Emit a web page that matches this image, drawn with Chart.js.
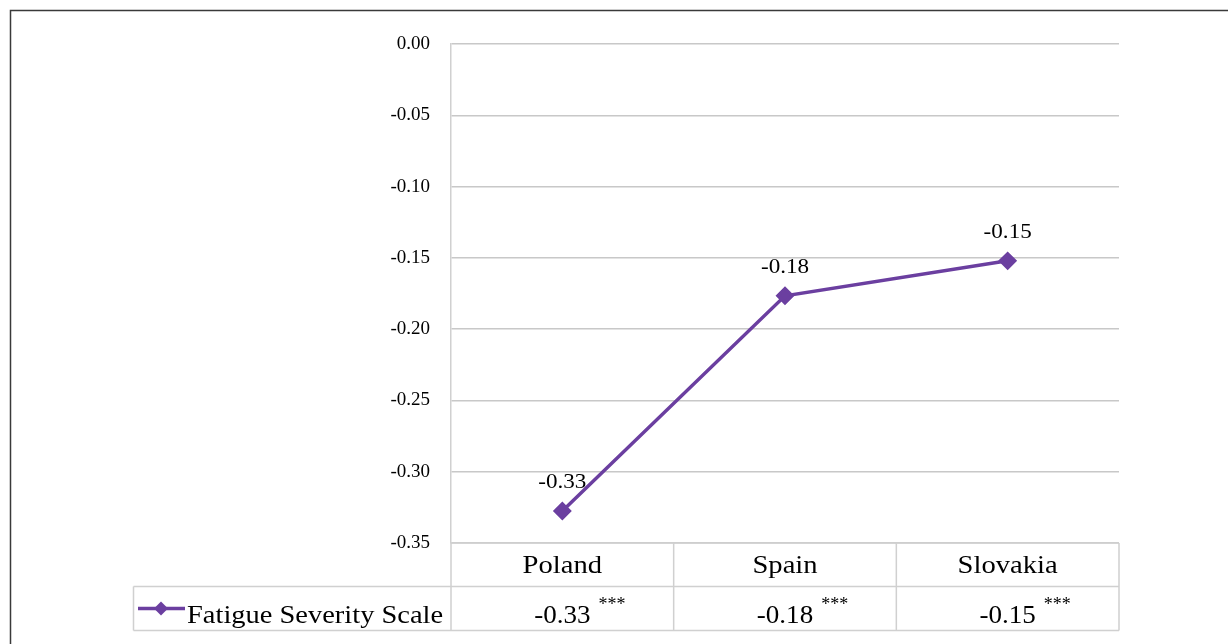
<!DOCTYPE html>
<html>
<head>
<meta charset="utf-8">
<script src="https://cdn.jsdelivr.net/npm/chart.js@4.4.1/dist/chart.umd.min.js"></script>
<style>
html,body{margin:0;padding:0;background:#fff;}
#wrap{width:1228px;height:644px;position:relative;}
</style>
</head>
<body>
<div id="wrap"><canvas id="c" width="1228" height="644"></canvas></div>
<script>
const categories = ["Poland", "Spain", "Slovakia"];
const seriesName = "Fatigue Severity Scale";
const values = [-0.3275, -0.1766, -0.1521];
const significance = ["***", "***", "***"];
const yTicks = [0, -0.05, -0.10, -0.15, -0.20, -0.25, -0.30, -0.35];

const LINE = '#6b3fa0';
const SERIF = '"Liberation Serif", "Times New Roman", serif';

function wideText(ctx, txt, x, y, align, sx) {
  const w = ctx.measureText(txt).width * sx;
  let left = x;
  if (align === 'center') left = x - w / 2;
  else if (align === 'right') left = x - w;
  ctx.save();
  ctx.textAlign = 'left';
  ctx.translate(left, y);
  ctx.scale(sx, 1);
  ctx.fillText(txt, 0, 0);
  ctx.restore();
  return w;
}

const decor = {
  id: 'decor',
  afterDraw(chart) {
    const ctx = chart.ctx;
    const a = chart.chartArea;
    const xs = chart.scales.x;
    const ds = chart.data.datasets[0];
    const meta = chart.getDatasetMeta(0);
    ctx.save();
    // outer frame
    ctx.strokeStyle = '#3a3a3a';
    ctx.lineWidth = 1.5;
    ctx.beginPath();
    ctx.moveTo(10.5, 650); ctx.lineTo(10.5, 10.5); ctx.lineTo(1240, 10.5);
    ctx.stroke();

    // data labels
    ctx.fillStyle = '#000';
    ctx.font = '22px ' + SERIF;
    ctx.textBaseline = 'alphabetic';
    meta.data.forEach((p, i) => {
      wideText(ctx, ds.data[i].toFixed(2), p.x, p.y - 23, 'center', 1.05);
    });

    // data table
    const colW = (a.right - a.left) / categories.length;
    const rowTop = a.bottom, rowMid = a.bottom + 43.5, rowBot = a.bottom + 87.5;
    const legLeft = 133.5;
    ctx.strokeStyle = '#d0d0d0';
    ctx.lineWidth = 1.5;
    ctx.beginPath();
    ctx.moveTo(a.left, rowTop); ctx.lineTo(a.right, rowTop);
    ctx.moveTo(legLeft, rowMid); ctx.lineTo(a.right, rowMid);
    ctx.moveTo(legLeft, rowBot); ctx.lineTo(a.right, rowBot);
    ctx.moveTo(legLeft, rowMid); ctx.lineTo(legLeft, rowBot);
    ctx.moveTo(a.left, rowTop); ctx.lineTo(a.left, rowBot);
    for (let i = 1; i <= categories.length; i++) {
      const x = a.left + colW * i;
      ctx.moveTo(x, rowTop); ctx.lineTo(x, rowBot);
    }
    ctx.stroke();

    // header labels
    ctx.fillStyle = '#000';
    ctx.font = '26px ' + SERIF;
    categories.forEach((c, i) => {
      const x = xs.getPixelForValue(i);
      wideText(ctx, c, x, rowTop + 30, 'center', 1.1);
    });
    // value row
    categories.forEach((c, i) => {
      const x = xs.getPixelForValue(i);
      const txt = ds.data[i].toFixed(2);
      ctx.font = '26px ' + SERIF;
      const w = wideText(ctx, txt, x, rowMid + 36, 'center', 1.04);
      ctx.font = '18px ' + SERIF;
      ctx.textAlign = 'left';
      ctx.fillText(significance[i], x + w / 2 + 8, rowMid + 23);
    });
    // legend cell
    const ly = rowMid + 22;
    ctx.strokeStyle = LINE;
    ctx.lineWidth = 3.5;
    ctx.beginPath();
    ctx.moveTo(138, ly); ctx.lineTo(185, ly);
    ctx.stroke();
    ctx.fillStyle = LINE;
    ctx.beginPath();
    ctx.moveTo(161, ly - 7); ctx.lineTo(168, ly); ctx.lineTo(161, ly + 7); ctx.lineTo(154, ly);
    ctx.closePath(); ctx.fill();
    ctx.fillStyle = '#000';
    ctx.font = '26px ' + SERIF;
    wideText(ctx, seriesName, 187, rowMid + 36, 'left', 1.095);
    ctx.restore();
  }
};

new Chart(document.getElementById('c'), {
  type: 'line',
  data: {
    labels: categories,
    datasets: [{
      label: seriesName,
      data: values,
      borderColor: LINE,
      backgroundColor: LINE,
      borderWidth: 3.5,
      pointStyle: 'rectRot',
      pointRadius: 7,
      pointHoverRadius: 7,
      tension: 0
    }]
  },
  options: {
    responsive: false,
    animation: false,
    events: [],
    layout: { padding: { left: 0, right: 109, top: 44, bottom: 101 } },
    plugins: { legend: { display: false }, tooltip: { enabled: false } },
    scales: {
      x: {
        type: 'category',
        offset: true,
        display: false
      },
      y: {
        min: -0.35,
        max: 0,
        afterBuildTicks(scale) { scale.ticks = yTicks.map(v => ({ value: v })); },
        afterFit(scale) { scale.width = 451; },
        ticks: {
          callback: v => Number(v).toFixed(2),
          color: '#000',
          padding: 21,
          font: { family: SERIF, size: 19 }
        },
        grid: { color: '#c8c8c8', lineWidth: 1.5, drawTicks: false },
        border: { color: '#d0d0d0', width: 1.5 }
      }
    }
  },
  plugins: [decor]
});
</script>
</body>
</html>
